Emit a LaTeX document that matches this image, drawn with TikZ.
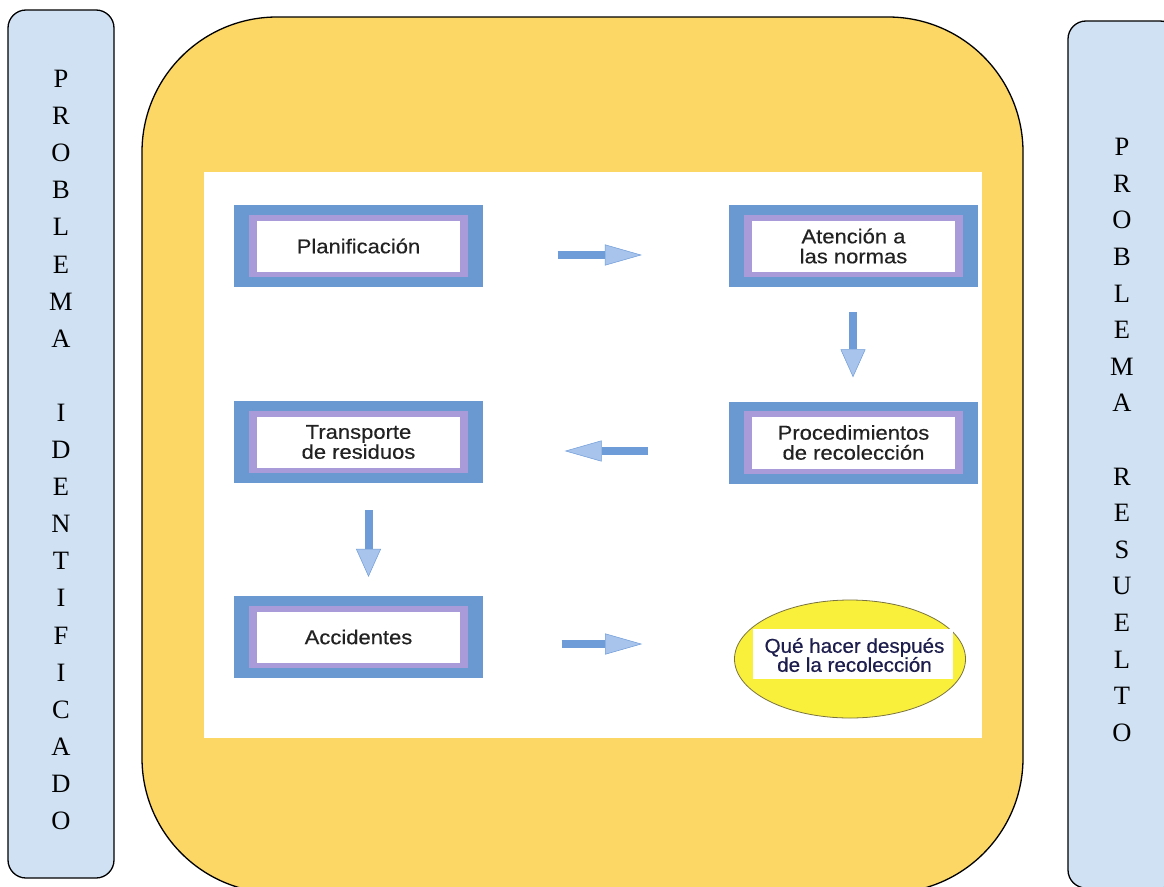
\documentclass[tikz,border=0pt]{standalone}
\usepackage{fontspec}
\setmainfont{Liberation Serif}
\newfontfamily\labfont[FakeStretch=1.1,FakeBold=0.35]{Liberation Sans}
\newfontfamily\ellfont[FakeStretch=1.03,FakeBold=0.6]{Liberation Sans}
\usetikzlibrary{arrows.meta,shapes.geometric,calc}
\definecolor{panelyellow}{HTML}{FCD766}
\definecolor{sideblue}{HTML}{CFE1F3}
\definecolor{boxblue}{HTML}{6A99D2}
\definecolor{boxlav}{HTML}{A99BDA}
\definecolor{arrblue}{HTML}{6E9CD8}
\definecolor{arrlight}{HTML}{A8C4EC}
\definecolor{ellyellow}{HTML}{F9F03C}
\definecolor{ellline}{HTML}{7A7340}
\definecolor{labtext}{HTML}{222222}
\definecolor{navytext}{HTML}{1E1E4E}
\newcommand\flowbox[4]{%
  \node[outerbox] (#1) at (#2,#3) {};
  \fill[boxlav] ($(#1.north west)+(15,10)$) rectangle ($(#1.south east)+(-15,-10)$);
  \fill[white] ($(#1.north west)+(23,16)$) rectangle ($(#1.south east)+(-23,-15)$);
  \node[labelnode] (#1-t) at (#1) {#4};
}
\begin{document}
\begin{tikzpicture}[x=1pt,y=-1pt,
  sidebox/.style={draw=black, line width=1.3pt, fill=sideblue, rounded corners=18pt},
  sidetext/.style={align=center, inner sep=0pt},
  outerbox/.style={fill=boxblue, minimum width=249pt, minimum height=82pt, inner sep=0pt, draw=none},
  labelnode/.style={align=center, text=labtext, font=\labfont\fontsize{20}{20}\selectfont, inner sep=0pt},
  harr/.style={draw=arrblue, line width=8pt,
    -{Triangle[length=37pt, width=21pt, line width=0.5pt, fill=arrlight]}},
  varr/.style={draw=arrblue, line width=8pt,
    -{Triangle[length=28pt, width=25pt, line width=0.5pt, fill=arrlight]}}]
\useasboundingbox (0,0) rectangle (1164,886);
\clip (0,0) rectangle (1164,886);

% side boxes
\draw[sidebox] (8,10) rectangle (114,878);
\node[sidetext, font=\fontsize{26.5}{37.1}\selectfont] (lcol) at (61,450)
  {P\\R\\O\\B\\L\\E\\M\\A\\\mbox{}\\I\\D\\E\\N\\T\\I\\F\\I\\C\\A\\D\\O};
\draw[sidebox] (1068,21) rectangle (1178,888);
\node[sidetext, font=\fontsize{26.5}{36.6}\selectfont] (rcol) at (1122,440)
  {P\\R\\O\\B\\L\\E\\M\\A\\\mbox{}\\R\\E\\S\\U\\E\\L\\T\\O};

% central yellow panel
\draw[line width=1.3pt, fill=panelyellow, rounded corners=135pt] (142,17) rectangle (1023,893);
\fill[white] (204,172) rectangle (982,738);

% flow boxes
\flowbox{plan}{358.5}{246}{Planificación}
\flowbox{aten}{853.5}{246}{Atención a\\las normas}
\flowbox{trans}{358.5}{442}{Transporte\\de residuos}
\flowbox{proc}{853.5}{442.5}{Procedimientos\\de recolección}
\flowbox{acc}{358.5}{637}{Accidentes}

% ellipse
\node[ellipse, draw=ellline, line width=0.8pt, fill=ellyellow, minimum width=231pt, minimum height=118pt] (desp) at (850,659) {};
\fill[white] (753,629) rectangle (953,679);
\node[labelnode, text=navytext, font=\ellfont\fontsize{20}{19}\selectfont] (desp-t) at (854.5,655) {Qué hacer después\\de la recolección};

% arrows
\draw[harr] ($(plan.east)+(74.5,9)$) -- ($(aten.west)+(-87,9)$);
\draw[varr] ($(aten.south)+(-0.5,25)$) -- ($(proc.north)+(-0.5,-24)$);
\draw[harr] ($(proc.west)+(-81,8.5)$) -- ($(trans.east)+(81.5,9)$);
\draw[varr] ($(trans.south)+(10,27)$) -- ($(acc.north)+(10,-19)$);
\draw[harr] ($(acc.east)+(78.5,7)$) -- ($(desp.west)+(-92,-15)$);
\end{tikzpicture}
\end{document}
